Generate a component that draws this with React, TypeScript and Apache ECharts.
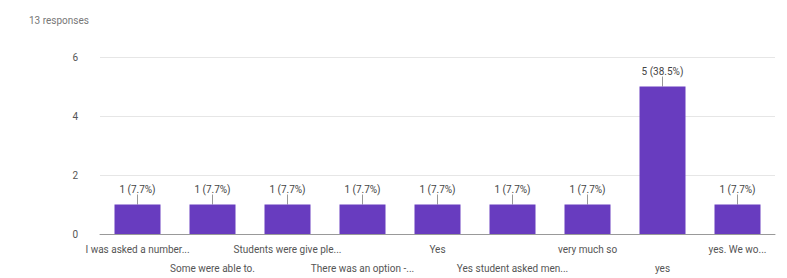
import React, { useEffect, useRef } from "react";
import * as echarts from "echarts";

const categories = [
  "I was asked a number...",
  "Some were able to.",
  "Students were give ple...",
  "There was an option -...",
  "Yes",
  "Yes student asked men...",
  "very much so",
  "yes",
  "yes. We wo...",
];
const counts = [1, 1, 1, 1, 1, 1, 1, 5, 1];
const totalResponses = 13;
const yTicks = [0, 2, 4, 6];

export default function App() {
  const ref = useRef<HTMLDivElement>(null);
  useEffect(() => {
    if (!ref.current) return;
    const chart = echarts.init(ref.current, null, { renderer: "svg" });
    const font = "Roboto, Arial, sans-serif";
    chart.setOption({
      animation: false,
      textStyle: { fontFamily: font },
      title: {
        text: `${totalResponses} responses`,
        left: 24,
        top: 10,
        textStyle: { fontSize: 10, fontWeight: "normal", color: "#777", fontFamily: font },
      },
      grid: { left: 100, right: 12, top: 57, bottom: 41 },
      xAxis: {
        type: "category",
        data: categories,
        axisTick: { show: false },
        axisLine: { lineStyle: { color: "#999", width: 1 } },
        axisLabel: {
          interval: 0,
          color: "#555",
          fontSize: 10,
          margin: 6,
          lineHeight: 19,
          formatter: (v: string, i: number) => (i % 2 === 1 ? "\n" + v : v),
        },
      },
      yAxis: {
        type: "value",
        min: yTicks[0],
        max: yTicks[yTicks.length - 1],
        interval: 2,
        axisLabel: { color: "#555", fontSize: 10, margin: 22 },
        splitLine: { lineStyle: { color: "#e6e6e6" } },
        axisLine: { show: false },
        axisTick: { show: false },
      },
      series: [
        {
          type: "bar",
          data: counts,
          barWidth: 46,
          itemStyle: { color: "#683cbf" },
          label: {
            show: true,
            position: "top",
            distance: 10,
            color: "#444",
            fontSize: 10,
            formatter: (p: any) =>
              `${p.value} (${((p.value / totalResponses) * 100).toFixed(1)}%)`,
          },
          labelLine: { show: true, lineStyle: { color: "#999", width: 1 } },
          labelLayout: { dy: 0 },
        },
      ],
    });
    return () => chart.dispose();
  }, []);
  return (
    <div
      ref={ref}
      style={{ position: "fixed", left: 0, top: 0, width: 787, height: 278, background: "#fff" }}
    />
  );
}
